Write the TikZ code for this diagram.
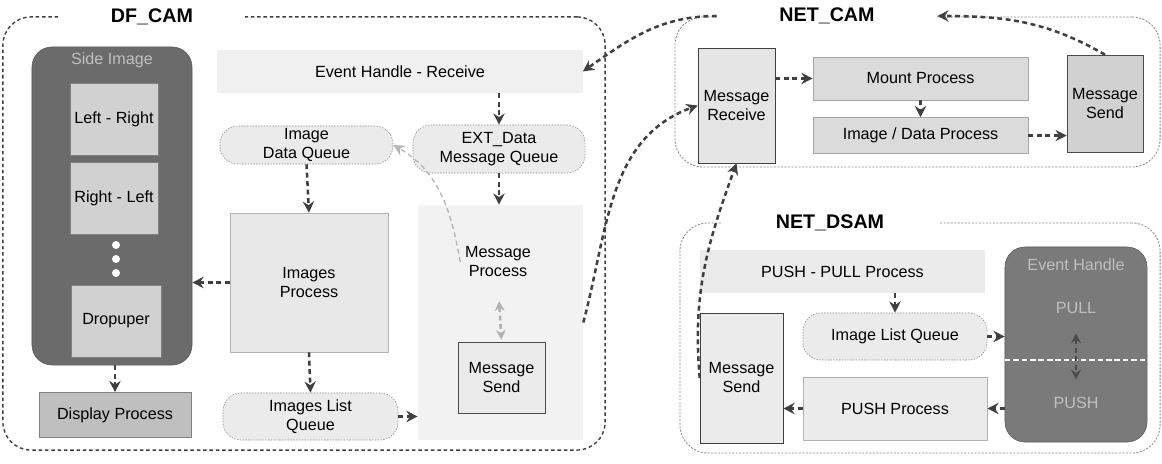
\documentclass[tikz,border=0pt]{standalone}
\usepackage{fontspec}
\setmainfont{Liberation Sans}
\usetikzlibrary{arrows.meta,positioning}

\begin{document}
\begin{tikzpicture}[
    x=0.025cm,y=-0.025cm,
    font=\fontsize{11.5}{13.5}\selectfont,
    container/.style={rectangle,draw=black!75,rounded corners=7mm,line width=1pt,dash pattern=on 2.5pt off 2pt,inner sep=0pt},
    netcontainer/.style={container,draw=black!45,line width=0.6pt,dash pattern=on 1.5pt off 1pt},
    titlebox/.style={rectangle,fill=white,inner sep=0pt,minimum height=6mm,font=\fontsize{14}{16}\selectfont\bfseries},
    darkbox/.style={rectangle,rounded corners=5mm,fill=black!58,draw=black!65,inner sep=0pt},
    darktext/.style={text=black!25,inner sep=1pt},
    lightbox/.style={rectangle,fill=black!18,draw=black!50,inner sep=0pt,align=center},
    plainbox/.style={rectangle,fill=black!7,inner sep=0pt,align=center},
    queue/.style={rectangle,rounded corners=4.5mm,fill=black!8,draw=black!45,dash pattern=on 1pt off 1pt,inner sep=0pt,align=center},
    flow/.style={draw=black!75,line width=1.8pt,dash pattern=on 3.5pt off 2.5pt,-{Stealth[length=8pt,width=8pt]}},
    faintflow/.style={flow,draw=black!28,line width=1pt},
    dblflow/.style={draw=black!30,line width=1.8pt,dash pattern=on 3.5pt off 2.5pt,{Stealth[length=7pt,width=7pt]}-{Stealth[length=7pt,width=7pt]}}
    ]

    \useasboundingbox (0,0) rectangle (1162,464);

    % DF_CAM
    \node (dfcam) [container,minimum width=150.5mm,minimum height=108.25mm] at (304,233.5) {};
    \node (dfcamtitle) [titlebox,minimum width=46.25mm] at (152,17) {DF\_CAM};

    \node (sideimg) [darkbox,minimum width=40mm,minimum height=79.5mm] at (112,206) {};
    \node (sideimgtitle) [darktext] at (112,60) {Side Image};
    \node (leftright) [lightbox,minimum width=22mm,minimum height=18mm] at (114,119) {Left - Right};
    \node (rightleft) [lightbox,minimum width=22mm,minimum height=18mm,below=1.75mm of leftright] {Right - Left};
    \foreach \y [count=\i] in {245,259,273}
      \node (dot\i) [circle,fill=white,inner sep=0pt,minimum size=2mm] at (116,\y) {};
    \node (dropuper) [lightbox,minimum width=22.5mm,minimum height=18mm] at (116,321) {Dropuper};
    \node (display) [lightbox,fill=black!25,minimum width=38mm,minimum height=11.25mm] at (115,415) {Display Process};

    \node (evtrecv) [plainbox,fill=black!6,minimum width=91.25mm,minimum height=10.75mm] at (400,71.5) {Event Handle - Receive};
    \node (idq) [queue,minimum width=43.25mm,minimum height=9.5mm] at (306.5,145) {Image\\Data Queue};
    \node (extq) [queue,minimum width=43mm,minimum height=12mm] at (499,149) {EXT\_Data\\Message Queue};
    \node (imgproc) [plainbox,fill=black!9,draw=black!30,minimum width=39.5mm,minimum height=34.75mm] at (309,282.5) {Images\\Process};
    \node (ilq) [queue,minimum width=43.75mm,minimum height=11.75mm] at (310.5,416.5) {Images List\\Queue};
    \node (msgproc) [plainbox,fill=black!5,minimum width=41.25mm,minimum height=58.75mm] at (500.5,322.5) {};
    \node (msgproctext) [align=center] at (498,262) {Message\\Process};
    \node (msgsend) [lightbox,fill=black!8,draw=black!70,minimum width=21.75mm,minimum height=17.75mm] at (501.5,377.5) {Message\\Send};

    \draw[flow] (idq.south) -- (imgproc.north);
    \draw[flow] (imgproc.west) -- (imgproc.west -| sideimg.east);
    \draw[flow] (display.north |- sideimg.south) -- (display.north);
    \draw[flow] (imgproc.south) -- (ilq.north);
    \draw[flow] (ilq.east) -- (ilq.east -| msgproc.west);
    \draw[flow] (extq.north |- evtrecv.south) -- (extq.north);
    \draw[flow] (extq.south) -- (extq.south |- msgproc.north);
    \draw[faintflow] (msgproctext.west) to[out=100,in=-30] (idq.east);
    \draw[dblflow,shorten <=4.75mm,shorten >=0.5mm] (msgproctext.south) -- (msgsend.north);

    % NET_CAM
    \node (netcam) [netcontainer,minimum width=121.25mm,minimum height=37.5mm] at (917.5,92) {};
    \node (netcamtitle) [titlebox,minimum width=55mm] at (827,16) {NET\_CAM};
    \node (netrecv) [lightbox,fill=black!10,draw=black!75,minimum width=19.25mm,minimum height=28.75mm] at (736.5,105.5) {Message\\Receive};
    \node (mount) [lightbox,fill=black!14,draw=black!35,minimum width=53.75mm,minimum height=10.75mm] at (920.5,78.5) {Mount Process};
    \node (imgdata) [lightbox,fill=black!14,draw=black!35,minimum width=53.75mm,minimum height=9mm,below=4.25mm of mount] {Image / Data Process};
    \node (netsend) [lightbox,fill=black!18,draw=black!70,minimum width=19mm,minimum height=24.25mm] at (1105,103.5) {Message\\Send};

    \draw[flow] (mount.west -| netrecv.east) -- (mount.west);
    \draw[flow] (mount) -- (imgdata);
    \draw[flow] (imgdata.east) -- (imgdata.east -| netsend.west);

    % NET_DSAM
    \node (netdsam) [netcontainer,minimum width=120mm,minimum height=57.5mm] at (920,338) {};
    \node (netdsamtitle) [titlebox,minimum width=54.5mm] at (830,223) {NET\_DSAM};
    \node (pushpull) [plainbox,fill=black!8,minimum width=71.25mm,minimum height=10.75mm] at (842.5,271.5) {PUSH - PULL Process};
    \node (evh) [darkbox,fill=black!52,minimum width=35.5mm,minimum height=48.75mm] at (1076,344.5) {};
    \node (evhtitle) [darktext] at (1076,265) {Event Handle};
    \node (pull) [darktext] at (1076,308) {PULL};
    \node (push) [darktext] at (1076,403) {PUSH};
    \coordinate (evhmid) at (1076,360);
    \draw[white,line width=1pt,dash pattern=on 4pt off 2pt] (evhmid -| evh.west) -- (evhmid -| evh.east);
    \node (ilq2) [queue,minimum width=46mm,minimum height=11.75mm] at (895,336.5) {Image List Queue};
    \node (dsamsend) [lightbox,fill=black!8,draw=black!75,minimum width=20.75mm,minimum height=32.5mm] at (741.5,378) {Message\\Send};
    \node (pushproc) [plainbox,fill=black!8,draw=black!30,minimum width=46mm,minimum height=15.75mm] at (895,408.5) {PUSH Process};

    \draw[flow] (ilq2.north |- pushpull.south) -- (ilq2.north);
    \draw[flow] (ilq2.east) -- (ilq2.east -| evh.west);
    \draw[flow] (pushproc.east -| evh.west) -- (pushproc.east);
    \draw[flow] (pushproc.west) -- (pushproc.west -| dsamsend.east);
    \draw[dblflow,draw=black!70,shorten <=4.5mm,shorten >=4mm] (pull) -- (push);

    % links between the parts
    \draw[flow] (netsend.north) to[out=150,in=0] (netcamtitle.east);
    \draw[flow] (netcamtitle.west) to[out=180,in=35] (evtrecv.east);
    \draw[flow] (msgproc.east) to[out=75,in=200] (netrecv.west);
    \draw[flow] (dsamsend.west) to[out=95,in=250] (netrecv.south);

  \end{tikzpicture}
\end{document}
